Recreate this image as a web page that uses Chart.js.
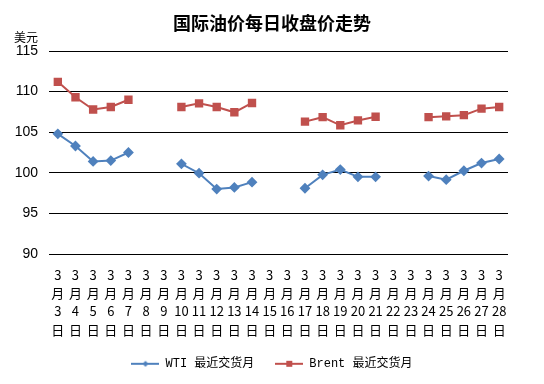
<!DOCTYPE html>
<html>
<head>
<meta charset="utf-8">
<script src="https://cdn.jsdelivr.net/npm/chart.js@4/dist/chart.umd.min.js"></script>
<style>
  html, body { margin: 0; padding: 0; background: #fff; }
  #wrap { width: 544px; height: 384px; }
</style>
</head>
<body>
<div id="wrap"><canvas id="oilChart" width="544" height="384"></canvas></div>
<script>
// 日期：3月3日 - 3月28日
const days = [3, 4, 5, 6, 7, 8, 9, 10, 11, 12, 13, 14, 15, 16, 17, 18, 19, 20, 21, 22, 23, 24, 25, 26, 27, 28];
const labels = days.map(d => ['3', '月', String(d), '日']);

// 周末无数据 (null)
const wtiPrices = [104.8, 103.3, 101.4, 101.5, 102.5, null, null, 101.1, 99.95, 98.0, 98.2, 98.85, null, null,
                   98.1, 99.75, 100.4, 99.5, 99.5, null, null, 99.6, 99.15, 100.25, 101.2, 101.7];
const brentPrices = [111.2, 109.3, 107.8, 108.1, 109.0, null, null, 108.1, 108.55, 108.1, 107.45, 108.6, null, null,
                     106.3, 106.85, 105.85, 106.45, 106.9, null, null, 106.85, 106.95, 107.1, 107.9, 108.1];

const yTicks = [90, 95, 100, 105, 110, 115];

const cjkFont = '"SimSun", "Noto Sans CJK SC", sans-serif';

// 图例用的小图标：线 + 标记
function legendIcon(color, shape) {
    const c = document.createElement('canvas');
    c.width = 28;
    c.height = 10;
    const g = c.getContext('2d');
    g.strokeStyle = color;
    g.lineWidth = 2;
    g.beginPath();
    g.moveTo(0, 5);
    g.lineTo(28, 5);
    g.stroke();
    g.fillStyle = color;
    g.beginPath();
    if (shape === 'diamond') {
        g.moveTo(14, 2); g.lineTo(17, 5); g.lineTo(14, 8); g.lineTo(11, 5);
    } else {
        g.rect(11, 2, 6, 6);
    }
    g.fill();
    return c;
}

// 标题和图例以整张画布居中，图例略微上移
const placeBoxes = {
    id: 'placeBoxes',
    afterLayout(chart) {
        chart.titleBlock.left = 36;
        chart.legend.left = 36;
        chart.legend.top -= 14;
    }
};

// 单位“美元”
const unitLabel = {
    id: 'unitLabel',
    afterDraw(chart) {
        const ctx = chart.ctx;
        ctx.save();
        ctx.font = '12px ' + cjkFont;
        ctx.fillStyle = '#000';
        ctx.textBaseline = 'middle';
        ctx.textAlign = 'left';
        ctx.fillText('美元', 14, 37);
        ctx.restore();
    }
};

new Chart(document.getElementById('oilChart'), {
    type: 'line',
    data: {
        labels: labels,
        datasets: [
            {
                label: 'WTI 最近交货月',
                data: wtiPrices,
                borderColor: '#4F81BD',
                backgroundColor: '#4F81BD',
                borderWidth: 2,
                pointStyle: 'rectRot',
                pointRadius: 4,
                pointHoverRadius: 4,
                spanGaps: false,
                tension: 0
            },
            {
                label: 'Brent 最近交货月',
                data: brentPrices,
                borderColor: '#C0504D',
                backgroundColor: '#C0504D',
                borderWidth: 2,
                pointStyle: 'rect',
                pointRadius: 4.5,
                pointHoverRadius: 4.5,
                spanGaps: false,
                tension: 0
            }
        ]
    },
    options: {
        responsive: false,
        animation: false,
        layout: { padding: { left: 0, right: 36, top: 4, bottom: 7.2 } },
        plugins: {
            title: {
                display: true,
                text: '国际油价每日收盘价走势',
                color: '#000',
                font: { family: cjkFont, size: 18, weight: 'bold' },
                padding: { top: 8, bottom: 17.4 }
            },
            legend: {
                position: 'bottom',
                maxHeight: 26,
                labels: {
                    color: '#000',
                    font: { family: '"Liberation Mono", ' + cjkFont, size: 12 },
                    usePointStyle: true,
                    pointStyleWidth: 28,
                    padding: 21,
                    generateLabels(chart) {
                        return chart.data.datasets.map((ds, i) => ({
                            text: ds.label,
                            fillStyle: ds.borderColor,
                            strokeStyle: ds.borderColor,
                            lineWidth: 0,
                            pointStyle: legendIcon(ds.borderColor, i === 0 ? 'diamond' : 'square'),
                            datasetIndex: i
                        }));
                    }
                }
            },
            tooltip: { enabled: false }
        },
        scales: {
            x: {
                offset: true,
                grid: { display: false, drawTicks: false },
                border: { display: false },
                ticks: {
                    color: '#000',
                    autoSkip: false,
                    maxRotation: 0,
                    minRotation: 0,
                    padding: 12,
                    font: { family: cjkFont, size: 13, lineHeight: 1.4 }
                }
            },
            y: {
                min: 90,
                max: 115,
                afterFit(scale) { scale.width = 49; },
                afterBuildTicks(scale) { scale.ticks = yTicks.map(v => ({ value: v })); },
                grid: { color: '#000', lineWidth: 1, drawTicks: false },
                border: { display: false },
                ticks: {
                    color: '#000',
                    padding: 11,
                    font: { family: '"Liberation Sans", Arial, sans-serif', size: 14 }
                }
            }
        }
    },
    plugins: [placeBoxes, unitLabel]
});
</script>
</body>
</html>
